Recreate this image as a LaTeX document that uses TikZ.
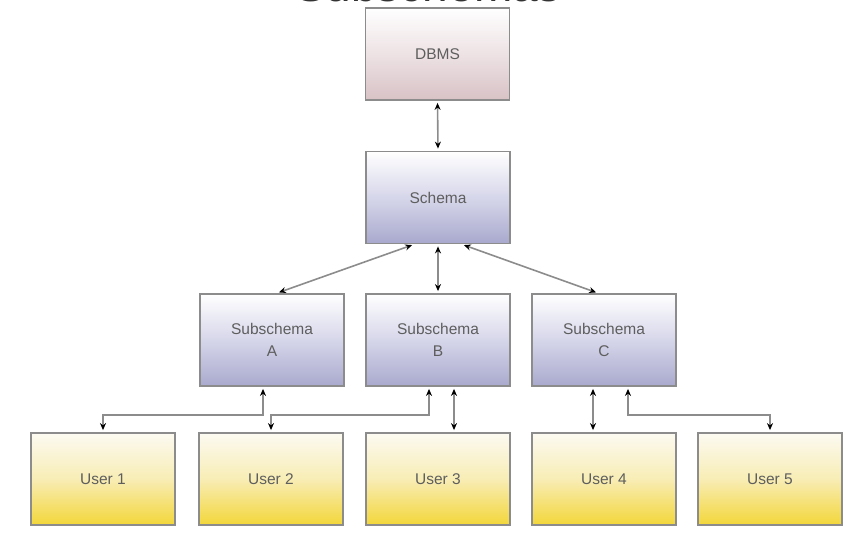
\documentclass[tikz,border=0pt]{standalone}
\usepackage{fontspec}
\setmainfont{Liberation Sans}
\usetikzlibrary{arrows.meta}
\definecolor{edge}{HTML}{8C8C8C}
\definecolor{txt}{HTML}{5E5E5E}
\definecolor{titlec}{HTML}{333333}
\definecolor{dbbot}{HTML}{D8C2C6}
\definecolor{dbmid}{HTML}{EDE2E4}
\definecolor{schbot}{HTML}{A9A9CE}
\definecolor{schmid}{HTML}{D6D6EA}
\definecolor{utop}{HTML}{FCFAF2}
\definecolor{ubot}{HTML}{F3D63A}
\definecolor{umid}{HTML}{F8EDB5}
\tikzset{
  box/.style={draw=edge, line width=1.8pt, minimum width=144pt, minimum height=92pt,
    inner sep=0pt, align=center, text=txt, font=\fontsize{15.5}{22}\selectfont},
  dbbox/.style={box, top color=white, bottom color=dbbot, middle color=dbmid},
  schbox/.style={box, top color=white, bottom color=schbot, middle color=schmid},
  userbox/.style={box, top color=utop, bottom color=ubot, middle color=umid},
  link/.style={draw=edge, line width=1.6pt, {Stealth[length=7pt,width=6pt,color=black]}-{Stealth[length=7pt,width=6pt,color=black]}}
}
\begin{document}
\begin{tikzpicture}[x=1pt,y=-1pt]
\useasboundingbox (0,0) rectangle (867,534);
\clip (0,0) rectangle (867,534);
\node[anchor=base, text=titlec, font=\fontsize{46}{50}\selectfont] (title) at (428,2) {Subschemas};
\node[dbbox] (dbms) at (437.5,54) {DBMS};
\node[schbox] (schema) at (438,197.5) {Schema};
\node[schbox] (sa) at (272,340) {Subschema\\A};
\node[schbox] (sb) at (438,340) {Subschema\\B};
\node[schbox] (sc) at (604,340) {Subschema\\C};
\node[userbox] (u1) at (103,479) {User 1};
\node[userbox] (u2) at (271,479) {User 2};
\node[userbox] (u3) at (438,479) {User 3};
\node[userbox] (u4) at (604,479) {User 4};
\node[userbox] (u5) at (770,479) {User 5};
\begin{scope}[shorten <=2pt, shorten >=2pt]
\draw[link] (dbms.south) -- (schema.north);
\draw[link] ([xshift=-24pt]schema.south) -- ([xshift=5pt]sa.north);
\draw[link] (schema.south) -- (sb.north);
\draw[link] ([xshift=24pt]schema.south) -- ([xshift=-6pt]sc.north);
\draw[link] ([xshift=-9pt]sa.south) -- ++(0,28) -| (u1.north);
\draw[link] ([xshift=-9pt]sb.south) -- ++(0,28) -| (u2.north);
\draw[link] ([xshift=16pt]sb.south) -- ([xshift=16pt]u3.north);
\draw[link] ([xshift=-11pt]sc.south) -- ([xshift=-11pt]u4.north);
\draw[link] ([xshift=24pt]sc.south) -- ++(0,28) -| (u5.north);
\end{scope}
\end{tikzpicture}
\end{document}
